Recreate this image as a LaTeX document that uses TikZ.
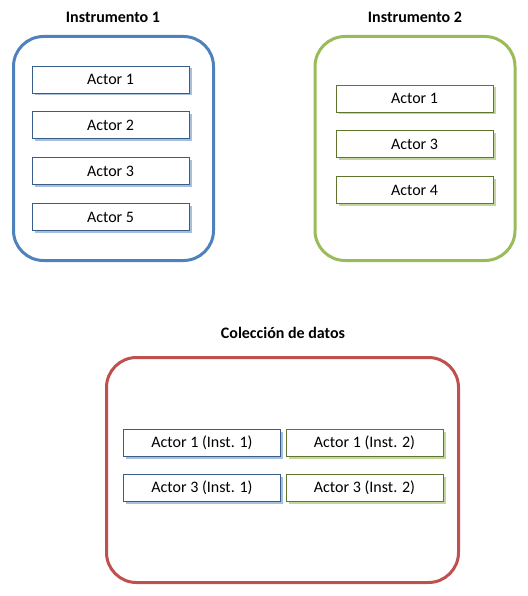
\documentclass[tikz,border=0pt]{standalone}
\usepackage{fontspec}
\setmainfont{Carlito}
\usetikzlibrary{
    positioning,
    shadows
}
\definecolor{instblue}{RGB}{79,129,189}
\definecolor{instbluedark}{RGB}{56,93,138}
\definecolor{instbluelight}{RGB}{167,191,222}
\definecolor{instgreen}{RGB}{155,187,89}
\definecolor{instgreendark}{RGB}{95,117,48}
\definecolor{instgreenlight}{RGB}{195,214,155}
\definecolor{datared}{RGB}{192,80,77}

\begin{document}
\begin{tikzpicture}[
        x=1pt, y=-1pt,
        node distance=18pt,
        title/.style={
            font=\fontsize{16}{18}\selectfont\bfseries
        },
        frame/.style={
            rounded corners=30pt,
            line width=3pt,
            minimum width=200pt,
            minimum height=224pt
        },
        actor/.style={
            draw=instbluedark,
            fill=white,
            line width=0.9pt,
            minimum width=157pt,
            minimum height=27pt,
            inner sep=0pt,
            font=\fontsize{16}{18}\selectfont,
            drop shadow={shadow xshift=2.5pt, shadow yshift=-2.5pt,
                fill=instbluelight, opacity=1}
        },
        actorgreen/.style={
            actor,
            draw=instgreendark,
            drop shadow={shadow xshift=2.5pt, shadow yshift=-2.5pt,
                fill=instgreenlight, opacity=1}
        }
    ]
    \useasboundingbox (0,0) rectangle (527,596);

    % Instrumento 1
    \node[title] (titleone) at (113,17) {Instrumento 1};
    \node[frame, draw=instblue] (instone) at (113.5,148.5) {};

    \node[actor] (oneA) at (110.5,79.5) {Actor 1};
    \node[actor, below=of oneA] (oneB) {Actor 2};
    \node[actor, below=of oneB] (oneC) {Actor 3};
    \node[actor, below=of oneC] (oneD) {Actor 5};

    % Instrumento 2
    \node[title] (titletwo) at (415,17) {Instrumento 2};
    \node[frame, draw=instgreen] (insttwo) at (415,148.5) {};

    \node[actorgreen] (twoA) at (414.5,98.5) {Actor 1};
    \node[actorgreen, below=of twoA] (twoB) {Actor 3};
    \node[actorgreen, below=of twoB] (twoC) {Actor 4};

    % Coleccion de datos
    \node[title] (titledata) at (283,333) {Colección de datos};
    \node[frame, draw=datared, minimum width=352pt,
        minimum height=225pt] (data) at (282.5,470) {};

    \node[actor] (dataA) at (202,442.5) {Actor 1 (Inst. 1)};
    \node[actorgreen] (dataB) at (364.5,442.5) {Actor 1 (Inst. 2)};
    \node[actor] (dataC) at (202,487.5) {Actor 3 (Inst. 1)};
    \node[actorgreen] (dataD) at (364.5,487.5) {Actor 3 (Inst. 2)};

\end{tikzpicture}
\end{document}
